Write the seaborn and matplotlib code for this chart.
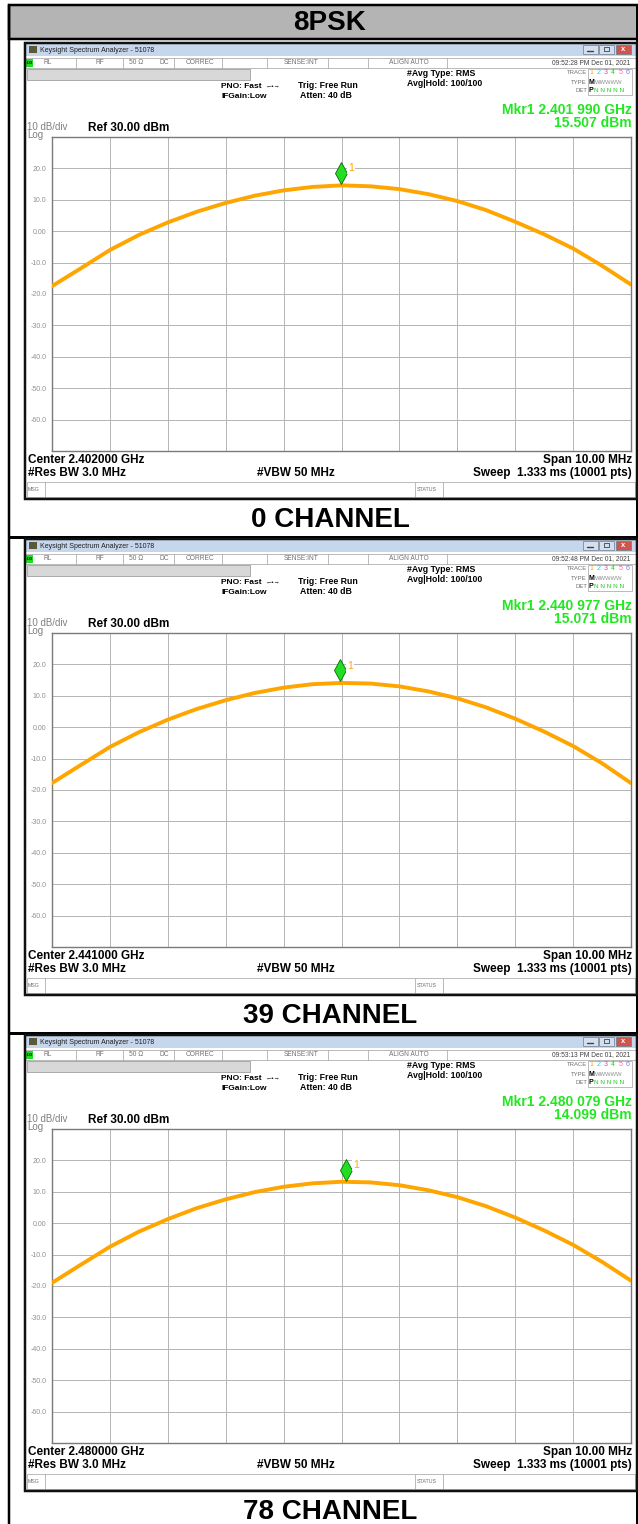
import matplotlib
matplotlib.use("Agg")
import matplotlib.pyplot as plt
from matplotlib.patches import Rectangle
import pandas as pd
import seaborn as sns

# offset from centre frequency, MHz (span 10 MHz)
freq_mhz = [-5.0, -4.5, -4.0, -3.5, -3.0, -2.5, -2.0, -1.5, -1.0, -0.5, 0.0,
            0.5, 1.0, 1.5, 2.0, 2.5, 3.0, 3.5, 4.0, 4.5, 5.0]

# trace levels, dBm
trace_ch0 = [-17.5, -11.8, -6.0, -1.2, 2.8, 6.2, 9.0, 11.3, 13.0, 14.1, 14.6,
             14.3, 13.4, 11.8, 9.6, 6.7, 3.0, -1.0, -5.5, -11.0, -17.0]
trace_ch39 = [-17.8, -12.0, -6.3, -1.6, 2.4, 5.8, 8.6, 10.9, 12.6, 13.7, 14.1,
              13.9, 13.0, 11.4, 9.2, 6.3, 2.7, -1.4, -6.0, -11.5, -17.8]
trace_ch78 = [-19.0, -13.2, -7.5, -2.7, 1.3, 4.8, 7.6, 9.9, 11.6, 12.7, 13.2,
              13.0, 12.1, 10.5, 8.3, 5.4, 1.8, -2.3, -6.9, -12.3, -18.3]
traces = [trace_ch0, trace_ch39, trace_ch78]

channel_labels = ["0 CHANNEL", "39 CHANNEL", "78 CHANNEL"]
center_ghz = ["2.402000", "2.441000", "2.480000"]
mkr_freq_text = ["2.401 990", "2.440 977", "2.480 079"]
mkr_offset_mhz = [-0.010, -0.023, 0.079]
mkr_level = [15.507, 15.071, 14.099]
timestamps = ["09:52:28 PM Dec 01, 2021", "09:52:48 PM Dec 01, 2021",
              "09:53:13 PM Dec 01, 2021"]

ytick_vals = [30, 20, 10, 0, -10, -20, -30, -40, -50, -60, -70]
ytick_text = ["", "20.0", "10.0", "0.00", "-10.0", "-20.0", "-30.0", "-40.0",
              "-50.0", "-60.0", ""]
xtick_vals = [-5, -4, -3, -2, -1, 0, 1, 2, 3, 4, 5]

sns.set_style("white")
plt.rcParams["font.family"] = ["Liberation Sans", "DejaVu Sans"]

W, H = 638, 1524
fig = plt.figure(figsize=(W / 100, H / 100), dpi=100)
bg = fig.add_axes([0, 0, 1, 1])
bg.set_xlim(0, W)
bg.set_ylim(H, 0)
bg.axis("off")


def lw(p):
    # pixels -> points
    return p * 0.72


def txt(x, y, s, size, color="black", weight="normal", ha="left", **kw):
    bg.text(x, y, s, fontsize=size, color=color, fontweight=weight,
            ha=ha, va="center", **kw)


def box(x, y, w, h, fc="none", ec="none", width=0.0, z=1):
    bg.add_patch(Rectangle((x, y), w, h, facecolor=fc, edgecolor=ec,
                           linewidth=width, zorder=z))


# table frame and header
box(9, 5, 629, 34, fc="#b4b4b4", ec="black", width=lw(2.5), z=3)
bg.plot([9, 9], [5, H], color="black", lw=lw(2.5), zorder=3)
bg.plot([637, 637], [5, H], color="black", lw=lw(2), zorder=3)
txt(330, 23, "8PSK", 20, weight="bold", ha="center", zorder=4)

GRAY_TXT = "#707070"
trace_cols = ["#ffa500", "#00d8e8", "#ff22ff", "#22cc22", "#ff6688", "#7777ff"]

for i in range(3):
    T = 40 + 496 * i

    # window
    box(25, T + 3, 612, 456, fc="white", z=1)
    box(25, T + 3, 612, 13, fc="#c6d6ec", z=2)
    box(29, T + 6, 8, 7, fc="#5a5a3a", z=3)
    txt(40, T + 10, "Keysight Spectrum Analyzer - 51078", 5, color="#202020", zorder=3)
    for bx, fc in [(583, "#d4e0f0"), (599, "#d4e0f0"), (616, "#d0564a")]:
        box(bx, T + 5, 15, 9, fc=fc, ec="#6a7a90", width=0.5, z=3)
    bg.plot([587, 593], [T + 11, T + 11], color="#404040", lw=1, zorder=4)
    box(604, T + 7, 5, 4, ec="#404040", width=0.6, z=4)
    txt(623.5, T + 9.5, "x", 5.5, color="white", weight="bold", ha="center", zorder=4)

    # status row
    box(25, T + 18, 612, 10, fc="white", ec="#a0a0a0", width=0.5, z=2)
    box(26, T + 19, 7, 8, fc="#22dd22", z=3)
    txt(29.5, T + 23, "LXI", 2.8, ha="center", weight="bold", zorder=4)
    for sx in [76, 123, 174, 222, 267, 328, 368, 447]:
        bg.plot([sx, sx], [T + 18, T + 28], color="#a0a0a0", lw=0.5, zorder=3)
    for sx, s in [(44, "RL"), (96, "RF"), (129, "50 \u03a9"), (159, "DC"),
                  (186, "CORREC"), (284, "SENSE:INT"), (389, "ALIGN AUTO")]:
        txt(sx, T + 23, s, 4.8, color=GRAY_TXT, zorder=3)
    txt(630, T + 23, timestamps[i], 4.8, color="#404040", ha="right", zorder=3)

    # gray entry box
    box(27, T + 29, 223, 11, fc="#d8d8d8", ec="#909090", width=0.5, z=2)

    # settings
    txt(221, T + 47, "PNO: Fast", 6, weight="bold", zorder=3)
    txt(221, T + 56, "IFGain:Low", 6, weight="bold", zorder=3)
    txt(266, T + 47, "\u2190\u2022\u2192", 4.5, zorder=3)
    txt(298, T + 46, "Trig: Free Run", 6.3, weight="bold", zorder=3)
    txt(300, T + 55, "Atten: 40 dB", 6.3, weight="bold", zorder=3)
    txt(407, T + 33, "#Avg Type: RMS", 6.3, weight="bold", zorder=3)
    txt(407, T + 43, "Avg|Hold: 100/100", 6.3, weight="bold", zorder=3)

    # trace table
    txt(587, T + 33, "TRACE", 4.3, color=GRAY_TXT, ha="right", zorder=3)
    txt(587, T + 42, "TYPE", 4.3, color=GRAY_TXT, ha="right", zorder=3)
    txt(587, T + 51, "DET", 4.3, color=GRAY_TXT, ha="right", zorder=3)
    box(588, T + 29, 44, 26, fc="white", ec="#a0a0a0", width=0.5, z=2)
    for k, c in enumerate(trace_cols):
        txt(591 + k * 7.4, T + 33, str(k + 1), 5, color=c, ha="center", zorder=3)
    txt(591, T + 42, "M", 5, weight="bold", ha="center", zorder=3)
    txt(594.5, T + 42, "WWWWW", 4.2, color="#909090", zorder=3)
    txt(591, T + 51, "P", 5, weight="bold", ha="center", zorder=3)
    txt(594.5, T + 51, "N N N N N", 4.6, color="#22cc22", zorder=3)

    # marker readout
    txt(632, T + 70, "Mkr1 " + mkr_freq_text[i] + " GHz", 10, color="#22e622",
        weight="bold", ha="right", zorder=3)
    txt(632, T + 83, f"{mkr_level[i]:.3f} dBm", 10, color="#22e622",
        weight="bold", ha="right", zorder=3)

    txt(27, T + 87.5, "10 dB/div", 7, color="#808080", zorder=3)
    txt(27, T + 95, "Log", 7, color="#808080", zorder=3)
    txt(88, T + 88, "Ref 30.00 dBm", 8.5, weight="bold", zorder=3)

    # footer
    txt(28, T + 420, "Center " + center_ghz[i] + " GHz", 8.5, weight="bold", zorder=3)
    txt(28, T + 433, "#Res BW 3.0 MHz", 8.5, weight="bold", zorder=3)
    txt(296, T + 433, "#VBW 50 MHz", 8.5, weight="bold", ha="center", zorder=3)
    txt(632, T + 420, "Span 10.00 MHz", 8.5, weight="bold", ha="right", zorder=3)
    txt(632, T + 433, "Sweep  1.333 ms (10001 pts)", 8.5, weight="bold",
        ha="right", zorder=3)
    box(27, T + 442, 608, 15, fc="white", ec="#b0b0b0", width=0.6, z=2)
    for sx in [45, 415, 443]:
        bg.plot([sx, sx], [T + 442, T + 457], color="#b0b0b0", lw=0.6, zorder=3)
    txt(28, T + 449.5, "MSG", 3.8, color=GRAY_TXT, zorder=3)
    txt(417, T + 449.5, "STATUS", 3.8, color=GRAY_TXT, zorder=3)

    # window border
    box(25, T + 3, 612, 456, ec="#101010", width=lw(2.5), z=5)

    # channel caption and separator
    txt(330, T + 480, channel_labels[i], 20, weight="bold", ha="center", zorder=4)
    if i < 2:
        bg.plot([9, 638], [T + 497, T + 497], color="black", lw=lw(3), zorder=4)

    # spectrum plot
    top, bottom = T + 97, T + 411
    ax = fig.add_axes([52 / W, 1 - bottom / H, (631 - 52) / W, (bottom - top) / H])
    ax.set_facecolor("white")
    df = pd.DataFrame({"freq": freq_mhz, "level": traces[i]})
    sns.lineplot(data=df, x="freq", y="level", ax=ax, color="#ffa500",
                 linewidth=2.8, zorder=3)
    ax.plot([mkr_offset_mhz[i]], [mkr_level[i] + 3.0], marker="d", ms=11,
            mfc="#22dd22", mec="#0b6b0b", mew=0.6, ls="none", zorder=5)
    ax.text(mkr_offset_mhz[i] + 0.12, mkr_level[i] + 4.5, "1", fontsize=7.5,
            color="#ffa500", va="center", zorder=6,
            bbox=dict(facecolor="white", edgecolor="none", pad=0.6))
    ax.set_xlim(-5, 5)
    ax.set_ylim(-70, 30)
    ax.set_xticks(xtick_vals)
    ax.set_xticklabels([""] * len(xtick_vals))
    ax.set_yticks(ytick_vals)
    ax.set_yticklabels(ytick_text)
    ax.tick_params(axis="both", length=0)
    ax.tick_params(axis="y", pad=4, labelsize=5, labelcolor="#909090")
    ax.grid(True, color="#b4b4b4", linewidth=0.7)
    ax.set_axisbelow(True)
    ax.set(xlabel=None, ylabel=None)
    for sp in ax.spines.values():
        sp.set_color("#7a7a7a")
        sp.set_linewidth(1.0)

fig.savefig("out.png", dpi=100)
